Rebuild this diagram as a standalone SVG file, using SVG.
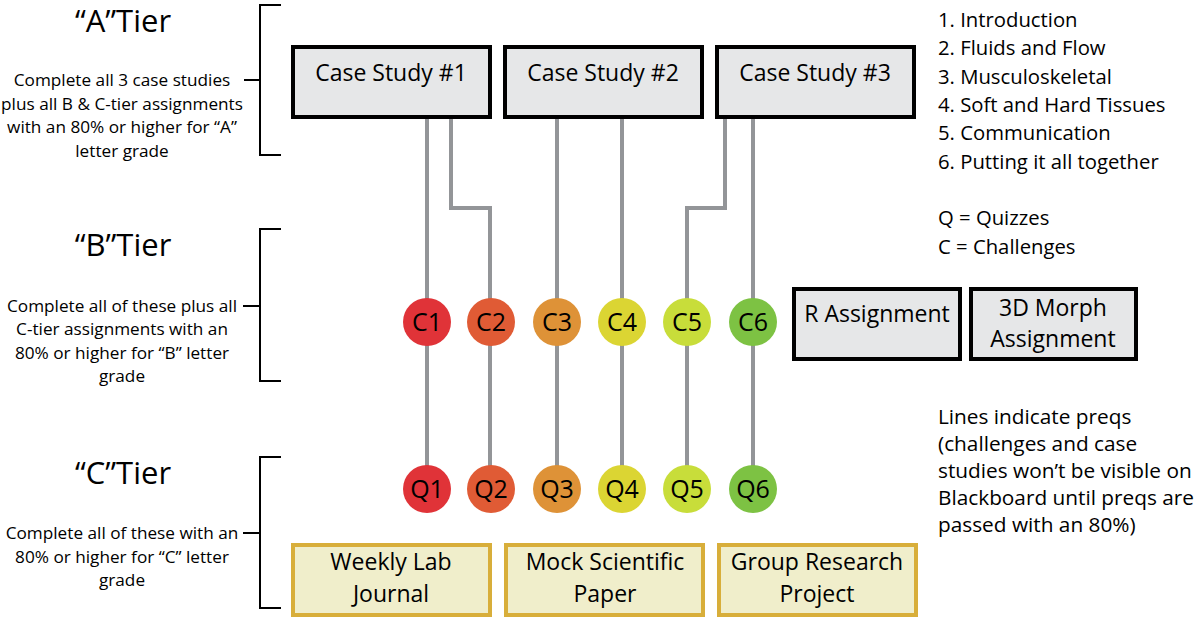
<svg xmlns="http://www.w3.org/2000/svg" width="1200" height="631" viewBox="0 0 1200 631">
<style>
text{font-family:"Open Sans","Noto Sans",sans-serif;fill:#000}
.title{font-size:31px;text-anchor:middle}
.desc{font-size:17.2px;text-anchor:middle}
.side{font-size:20.3px}
.note{font-size:20.8px}
.box{fill:#e6e7e8;stroke:#000;stroke-width:4}
.gold{fill:#f0eecb;stroke:#d8ae3a;stroke-width:4}
.bt{font-size:23px;text-anchor:middle}
.ct{font-size:25px;text-anchor:middle}
.br{fill:none;stroke:#000;stroke-width:2}
.ln{fill:none;stroke:#939598;stroke-width:4}
</style>
<g id="tierA">
<text class="title" x="123" y="32">“A”Tier</text>
<text class="desc" x="122" y="86">Complete all 3 case studies</text>
<text class="desc" x="122" y="110">plus all B &amp; C-tier assignments</text>
<text class="desc" x="122" y="133">with an 80% or higher for “A”</text>
<text class="desc" x="122" y="157">letter grade</text>
<path class="br" d="M281,5 H260 V155 H281 M244,80 H260"/>
</g>
<g id="tierB">
<text class="title" x="123" y="256">“B”Tier</text>
<text class="desc" x="122" y="312">Complete all of these plus all</text>
<text class="desc" x="122" y="335">C-tier assignments with an</text>
<text class="desc" x="122" y="359">80% or higher for “B” letter</text>
<text class="desc" x="122" y="382">grade</text>
<path class="br" d="M281,229 H260 V381 H281 M243,306 H260"/>
</g>
<g id="tierC">
<text class="title" x="123" y="484">“C”Tier</text>
<text class="desc" x="122" y="539">Complete all of these with an</text>
<text class="desc" x="122" y="563">80% or higher for “C” letter</text>
<text class="desc" x="122" y="586">grade</text>
<path class="br" d="M281,457 H260 V608 H281 M243,533 H260"/>
</g>
<g id="connectors">
<path class="ln" d="M427,119 V489"/>
<path class="ln" d="M451,119 V208 H490 V489"/>
<path class="ln" d="M557,119 V489"/>
<path class="ln" d="M622,119 V489"/>
<path class="ln" d="M725,119 V208 H687 V489"/>
<path class="ln" d="M753,119 V489"/>
</g>
<g id="cs1"><rect class="box" x="293" y="47" width="197" height="70"/><text class="bt" x="391" y="81">Case Study #1</text></g>
<g id="cs2"><rect class="box" x="505" y="47" width="197" height="70"/><text class="bt" x="603" y="81">Case Study #2</text></g>
<g id="cs3"><rect class="box" x="717" y="47" width="197" height="70"/><text class="bt" x="815" y="81">Case Study #3</text></g>
<g id="c1"><circle cx="427" cy="322" r="24" fill="#e03338"/><text class="ct" x="427" y="331">C1</text></g>
<g id="c2"><circle cx="491" cy="322" r="24" fill="#e05b35"/><text class="ct" x="491" y="331">C2</text></g>
<g id="c3"><circle cx="557" cy="322" r="24" fill="#de9237"/><text class="ct" x="557" y="331">C3</text></g>
<g id="c4"><circle cx="622" cy="322" r="24" fill="#dbd533"/><text class="ct" x="622" y="331">C4</text></g>
<g id="c5"><circle cx="687" cy="322" r="24" fill="#c8dd3a"/><text class="ct" x="687" y="331">C5</text></g>
<g id="c6"><circle cx="753" cy="322" r="24" fill="#7dc243"/><text class="ct" x="753" y="331">C6</text></g>
<g id="q1"><circle cx="427" cy="489" r="24" fill="#e03338"/><text class="ct" x="427" y="498">Q1</text></g>
<g id="q2"><circle cx="491" cy="489" r="24" fill="#e05b35"/><text class="ct" x="491" y="498">Q2</text></g>
<g id="q3"><circle cx="557" cy="489" r="24" fill="#de9237"/><text class="ct" x="557" y="498">Q3</text></g>
<g id="q4"><circle cx="622" cy="489" r="24" fill="#dbd533"/><text class="ct" x="622" y="498">Q4</text></g>
<g id="q5"><circle cx="687" cy="489" r="24" fill="#c8dd3a"/><text class="ct" x="687" y="498">Q5</text></g>
<g id="q6"><circle cx="753" cy="489" r="24" fill="#7dc243"/><text class="ct" x="753" y="498">Q6</text></g>
<g id="rassign"><rect class="box" x="794" y="289" width="166" height="70"/><text class="bt" x="877" y="322">R Assignment</text></g>
<g id="morph"><rect class="box" x="971" y="289" width="165" height="70"/><text class="bt" x="1053" y="316">3D Morph</text><text class="bt" x="1053" y="347">Assignment</text></g>
<g id="journal"><rect class="gold" x="293" y="545" width="197" height="70"/><text class="bt" x="391" y="570">Weekly Lab</text><text class="bt" x="391" y="602">Journal</text></g>
<g id="paper"><rect class="gold" x="506" y="545" width="197" height="70"/><text class="bt" x="605" y="570">Mock Scientific</text><text class="bt" x="605" y="602">Paper</text></g>
<g id="project"><rect class="gold" x="719" y="545" width="197" height="70"/><text class="bt" x="817" y="570">Group Research</text><text class="bt" x="817" y="602">Project</text></g>
<g id="legend">
<text class="side" x="938" y="27">1. Introduction</text>
<text class="side" x="938" y="55">2. Fluids and Flow</text>
<text class="side" x="938" y="84">3. Musculoskeletal</text>
<text class="side" x="938" y="112">4. Soft and Hard Tissues</text>
<text class="side" x="938" y="140">5. Communication</text>
<text class="side" x="938" y="169">6. Putting it all together</text>
<text class="side" x="938" y="225">Q = Quizzes</text>
<text class="side" x="938" y="254">C = Challenges</text>
</g>
<g id="note">
<text class="note" x="938" y="424">Lines indicate preqs</text>
<text class="note" x="938" y="451">(challenges and case</text>
<text class="note" x="938" y="478">studies won’t be visible on</text>
<text class="note" x="938" y="505">Blackboard until preqs are</text>
<text class="note" x="938" y="532">passed with an 80%)</text>
</g>
</svg>
